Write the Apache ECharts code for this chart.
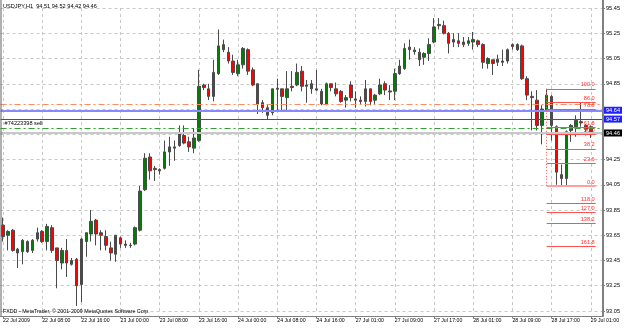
<!DOCTYPE html>
<html lang="en">
<head>
<meta charset="utf-8" />
<script src="https://cdn.jsdelivr.net/npm/echarts@6/dist/echarts.min.js"></script>
</head>
<body style="margin:0;background:#fff">
<div id="container" style="width:625px;height:328px"></div>
<script type="text/javascript">
// tick labels on the time axis, one every 8 hourly bars
var xTickLabels = ['22 Jul 2009', '22 Jul 08:00', '22 Jul 16:00', '23 Jul 00:00', '23 Jul 08:00',
  '23 Jul 16:00', '24 Jul 00:00', '24 Jul 08:00', '24 Jul 16:00', '27 Jul 01:00', '27 Jul 09:00',
  '27 Jul 17:00', '28 Jul 01:00', '28 Jul 09:00', '28 Jul 17:00', '29 Jul 01:00'];

// USDJPY H1 bars: [open, close, low, high]
var candles = [
  [93.73, 93.64, 93.60, 93.79], [93.65, 93.68, 93.53, 93.69], [93.69, 93.53, 93.52, 93.70],
  [93.54, 93.51, 93.39, 93.55], [93.52, 93.61, 93.42, 93.62], [93.60, 93.52, 93.51, 93.61],
  [93.53, 93.61, 93.51, 93.62], [93.62, 93.67, 93.60, 93.71], [93.68, 93.60, 93.59, 93.69],
  [93.60, 93.72, 93.53, 93.74], [93.71, 93.53, 93.51, 93.73], [93.55, 93.45, 93.23, 93.55],
  [93.43, 93.53, 93.38, 93.55], [93.53, 93.43, 93.32, 93.62], [93.42, 93.45, 93.41, 93.47],
  [93.46, 93.25, 93.09, 93.47], [93.26, 93.62, 93.12, 93.63], [93.60, 93.67, 93.48, 93.67],
  [93.66, 93.76, 93.60, 93.85], [93.77, 93.66, 93.57, 93.78], [93.67, 93.65, 93.53, 93.69],
  [93.64, 93.57, 93.53, 93.69], [93.55, 93.51, 93.45, 93.60], [93.50, 93.65, 93.44, 93.65],
  [93.63, 93.58, 93.55, 93.64], [93.58, 93.57, 93.55, 93.61], [93.572, 93.568, 93.55, 93.59],
  [93.58, 93.71, 93.57, 93.72], [93.69, 94.00, 93.68, 94.04], [94.01, 94.26, 94.00, 94.30],
  [94.27, 94.16, 94.09, 94.30], [94.18, 94.17, 94.08, 94.20], [94.17, 94.16, 94.13, 94.18],
  [94.18, 94.31, 94.17, 94.40], [94.31, 94.35, 94.20, 94.43], [94.34, 94.35, 94.24, 94.40],
  [94.36, 94.46, 94.35, 94.52], [94.44, 94.38, 94.37, 94.52], [94.39, 94.35, 94.31, 94.43],
  [94.34, 94.42, 94.30, 94.50], [94.40, 94.83, 94.39, 94.96], [94.84, 94.82, 94.80, 94.85],
  [94.81, 94.75, 94.72, 94.85], [94.75, 94.94, 94.71, 95.04], [94.93, 95.15, 94.92, 95.28],
  [95.16, 95.12, 95.10, 95.20], [95.10, 95.03, 95.01, 95.14], [95.03, 94.94, 94.92, 95.08],
  [94.93, 95.00, 94.91, 95.04], [95.00, 95.13, 94.97, 95.14], [95.12, 94.95, 94.92, 95.13],
  [94.96, 94.84, 94.83, 94.98], [94.85, 94.69, 94.61, 94.85], [94.70, 94.66, 94.62, 94.72],
  [94.66, 94.60, 94.57, 94.68], [94.62, 94.81, 94.60, 94.81], [94.806, 94.814, 94.64, 94.89],
  [94.81, 94.75, 94.64, 94.81], [94.74, 94.81, 94.63, 94.95], [94.83, 94.82, 94.79, 94.95],
  [94.84, 94.94, 94.83, 95.01], [94.95, 94.83, 94.79, 94.99], [94.84, 94.83, 94.70, 94.88],
  [94.85, 94.81, 94.77, 94.88], [94.81, 94.80, 94.79, 94.96], [94.79, 94.69, 94.68, 94.81],
  [94.69, 94.85, 94.68, 94.86], [94.85, 94.82, 94.79, 94.85], [94.81, 94.77, 94.75, 94.86],
  [94.79, 94.71, 94.70, 94.80], [94.72, 94.74, 94.66, 94.76], [94.84, 94.74, 94.71, 94.87],
  [94.73, 94.72, 94.66, 94.79], [94.72, 94.71, 94.69, 94.75], [94.71, 94.81, 94.67, 94.88],
  [94.81, 94.71, 94.68, 94.81], [94.72, 94.76, 94.69, 94.77], [94.77, 94.84, 94.76, 94.89],
  [94.85, 94.80, 94.76, 94.87], [94.793, 94.785, 94.72, 94.84], [94.79, 94.93, 94.72, 94.97],
  [94.93, 94.99, 94.92, 95.04], [94.97, 95.13, 94.96, 95.17], [95.14, 95.12, 95.04, 95.20],
  [95.104, 95.117, 95.08, 95.14], [95.10, 95.04, 94.99, 95.13], [95.06, 95.09, 95.00, 95.10],
  [95.09, 95.16, 95.03, 95.21], [95.18, 95.30, 95.17, 95.37], [95.31, 95.32, 95.28, 95.37],
  [95.31, 95.25, 95.24, 95.35], [95.25, 95.17, 95.09, 95.26], [95.18, 95.20, 95.14, 95.25],
  [95.19, 95.17, 95.14, 95.25], [95.18, 95.16, 95.14, 95.22], [95.17, 95.19, 95.15, 95.22],
  [95.18, 95.20, 95.12, 95.26], [95.19, 95.16, 95.14, 95.20], [95.16, 95.02, 94.97, 95.17],
  [95.01, 95.05, 94.97, 95.06], [95.04, 95.01, 94.92, 95.04], [95.02, 95.045, 94.99, 95.08],
  [95.03, 95.02, 94.99, 95.12], [95.03, 95.12, 95.01, 95.13], [95.16, 95.145, 95.12, 95.17],
  [95.12, 95.16, 95.11, 95.17], [95.15, 94.89, 94.88, 95.16], [94.89, 94.76, 94.72, 94.91],
  [94.75, 94.74, 94.48, 94.79], [94.72, 94.52, 94.48, 94.80], [94.52, 94.65, 94.37, 94.68],
  [94.64, 94.76, 94.63, 94.81], [94.75, 94.52, 94.40, 94.76], [94.51, 94.15, 94.05, 94.52],
  [94.13, 94.10, 94.04, 94.21], [94.10, 94.47, 94.04, 94.48], [94.48, 94.52, 94.39, 94.53],
  [94.51, 94.56, 94.43, 94.60], [94.55, 94.54, 94.51, 94.70], [94.52, 94.49, 94.44, 94.53],
  [94.51, 94.46, 94.42, 94.52]
];

// fibonacci levels drawn on the last swing
var fibLevels = ['100.0', '86.0', '78.6', '61.8', '50.0', '38.2', '23.6', '0.0', '118.0', '127.0', '138.2', '161.8'];
var fibPrices = [94.81, 94.70, 94.645, 94.505, 94.45, 94.335, 94.22, 94.04, 93.90, 93.83, 93.745, 93.56];
var fibStart = 111, fibEnd = 121;

// horizontal lines
var coralLine = 94.695;
var stopLines = [94.64, 94.57];
var orderLine = 94.50, orderLabel = '#74223398 sell';
var bidPrice = 94.46;

var extraBars = 2;
var categories = [];
for (var i = 0; i < candles.length + extraBars; i++) categories.push(String(i));

var small = 5.6;
var fontFam = 'Liberation Sans';

var mlData = [];
mlData.push({ yAxis: coralLine, lineStyle: { color: '#ff8a5c', type: [6, 3, 2, 3], width: 1 }, label: { show: false } });
mlData.push({ yAxis: stopLines[0], lineStyle: { color: '#8888ff', type: 'solid', width: 2 },
  label: { show: true, position: 'end', distance: 1, formatter: stopLines[0].toFixed(2), color: '#fff',
    backgroundColor: '#2020ff', padding: [1, 2, 0, 2], fontSize: small, fontFamily: fontFam } });
mlData.push({ yAxis: stopLines[1], lineStyle: { color: '#3c3cf0', type: 'solid', width: 1 },
  label: { show: true, position: 'end', distance: 1, formatter: stopLines[1].toFixed(2), color: '#fff',
    backgroundColor: '#2020ff', padding: [1, 2, 0, 2], fontSize: small, fontFamily: fontFam } });
mlData.push({ yAxis: orderLine, lineStyle: { color: '#30a030', type: [6, 3, 2, 3], width: 1 },
  label: { show: true, position: 'insideStartTop', distance: 1, formatter: orderLabel, color: '#000',
    fontSize: small, fontFamily: fontFam, padding: [0, 0, 0, 3] } });
mlData.push({ yAxis: bidPrice, lineStyle: { color: '#c8c8c8', type: 'solid', width: 2 },
  label: { show: true, position: 'end', distance: 1, formatter: bidPrice.toFixed(2), color: '#fff',
    backgroundColor: '#000', padding: [1, 2, 0, 2], fontSize: small, fontFamily: fontFam } });
for (var k = 0; k < fibLevels.length; k++) {
  var isZero = fibLevels[k] === '0.0';
  mlData.push([
    { coord: [String(fibStart), fibPrices[k]], lineStyle: { color: isZero ? '#ffa0a0' : '#ff5050', type: 'solid', width: isZero ? 2 : 1 },
      label: { show: true, position: 'insideEndTop', distance: 1, formatter: fibLevels[k], color: '#ff3030',
        fontSize: small, fontFamily: fontFam } },
    { coord: [String(fibEnd), fibPrices[k]] }
  ]);
}
mlData.push([
  { coord: [String(fibStart), fibPrices[0]], lineStyle: { color: '#ff5050', type: [1, 2], width: 1 }, label: { show: false } },
  { coord: [String(fibStart), fibPrices[7]] }
]);

var dom = document.getElementById('container');
var myChart = echarts.init(dom, null, { renderer: 'canvas' });

var option = {
  animation: false,
  backgroundColor: '#fff',
  grid: { left: 0.5, right: 22, top: 8, bottom: 17 },
  xAxis: {
    type: 'category',
    data: categories,
    boundaryGap: true,
    offset: 5.5,
    axisLine: { show: true, lineStyle: { color: '#808080', width: 1 } },
    axisTick: { show: true, interval: 7, alignWithLabel: true, length: 2, lineStyle: { color: '#808080' } },
    axisLabel: {
      interval: 7, align: 'left', margin: 2, color: '#000', fontSize: 5.2, fontFamily: fontFam,
      formatter: function (v, idx) { return idx % 8 === 0 ? (xTickLabels[idx / 8] || '') : ''; }
    },
    splitLine: { show: true, interval: 7, alignWithLabel: true, lineStyle: { color: '#c8c8c8', type: [3, 3] } }
  },
  yAxis: {
    type: 'value',
    position: 'right',
    scale: true,
    min: 93.05,
    max: 95.45,
    interval: 0.2,
    axisLine: { show: false },
    axisTick: { show: true, length: 2, lineStyle: { color: '#808080' } },
    axisLabel: { margin: 3, color: '#000', fontSize: small, fontFamily: fontFam,
      formatter: function (v) { return v.toFixed(2); } },
    splitLine: { show: true, lineStyle: { color: '#c8c8c8', type: [3, 3] } }
  },
  graphic: [
    { type: 'line', shape: { x1: 1, y1: 0, x2: 1, y2: 316.5 }, style: { stroke: '#606060', lineWidth: 1 }, z: 10 },
    { type: 'line', shape: { x1: 603, y1: 0, x2: 603, y2: 316.5 }, style: { stroke: '#808080', lineWidth: 2 }, z: 10 },
    { type: 'text', left: 3, top: 3, style: { text: 'USDJPY,H1  94.51 94.52 94.42 94.46', fill: '#000', font: small + 'px ' + fontFam }, z: 10 },
    { type: 'text', left: 3, top: 309, style: { text: 'FXDD - MetaTrader, \u00a9 2001-2009 MetaQuotes Software Corp.', fill: '#000', font: '5.3px ' + fontFam }, z: 10 }
  ],
  series: [{
    type: 'candlestick',
    data: candles,
    barWidth: 3,
    itemStyle: {
      color: '#008000', color0: '#ff0000',
      borderColor: '#4a4a4a', borderColor0: '#4a4a4a', borderWidth: 1
    },
    markLine: {
      silent: true,
      symbol: ['none', 'none'],
      animation: false,
      data: mlData
    }
  }]
};

myChart.setOption(option);
window.addEventListener('resize', myChart.resize);
</script>
</body>
</html>
